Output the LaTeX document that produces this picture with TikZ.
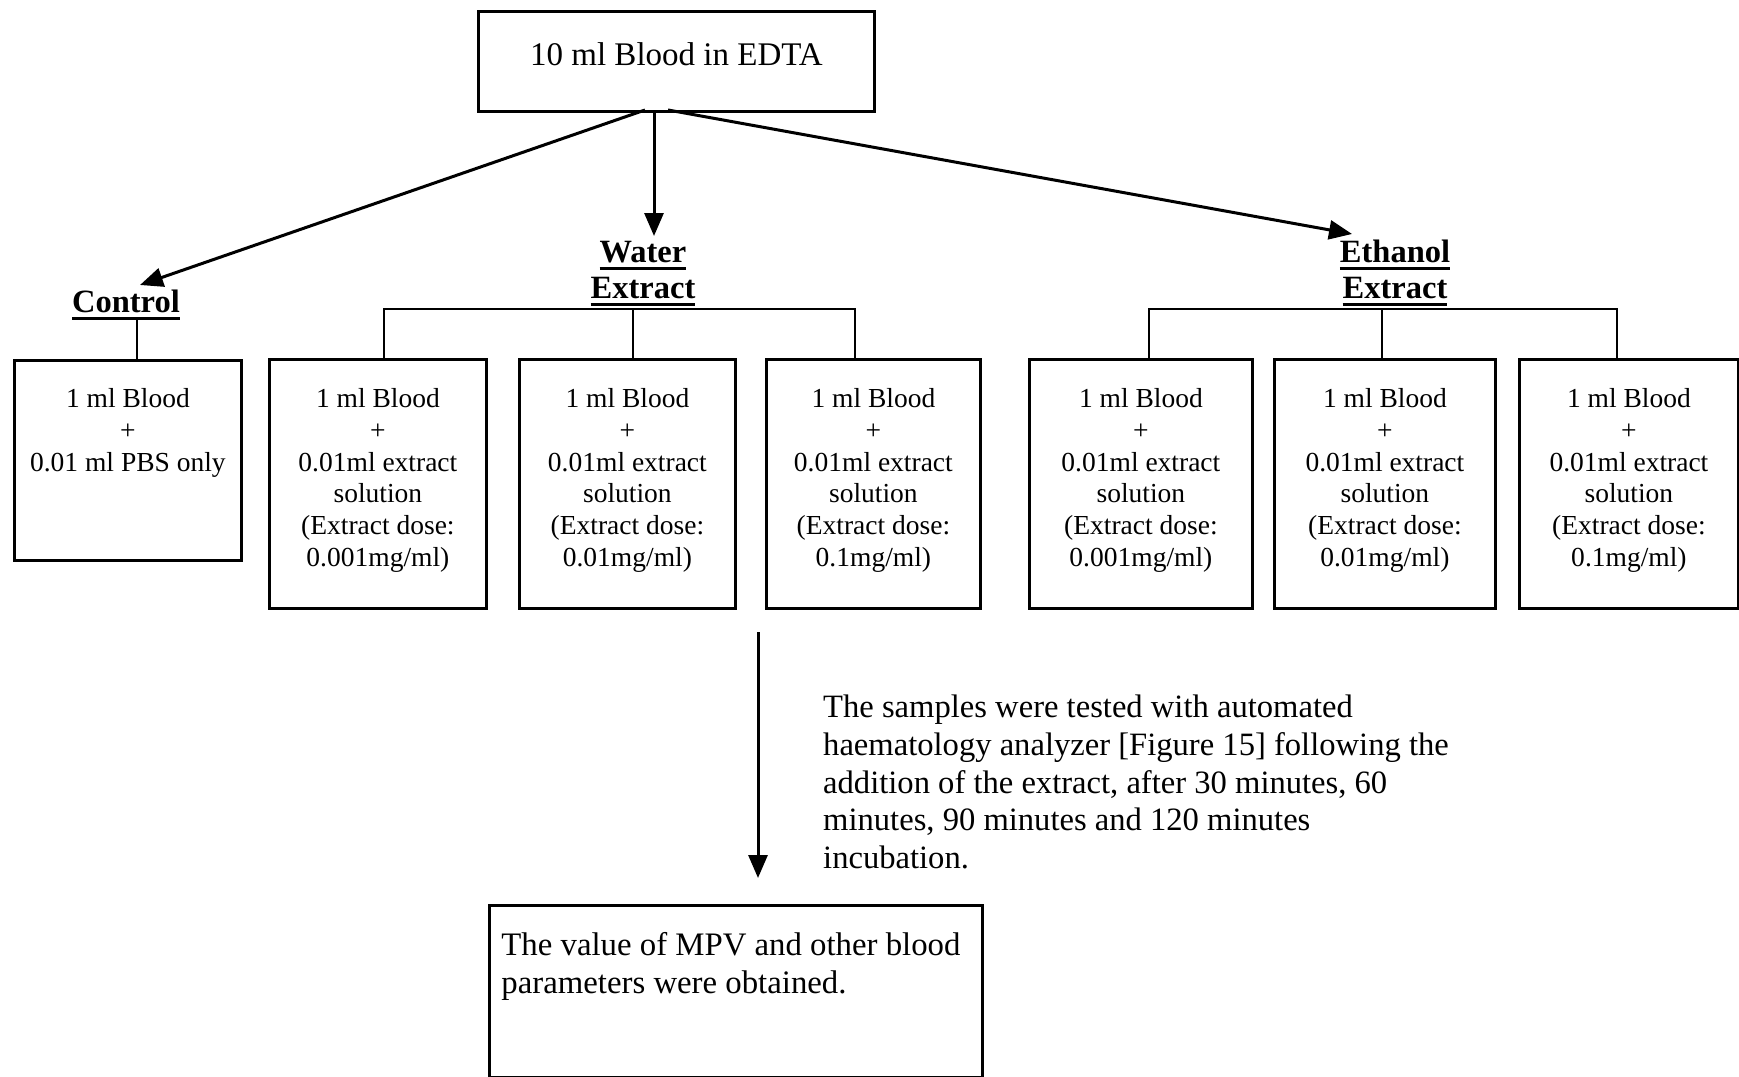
\documentclass[tikz,border=0pt]{standalone}
\usepackage{fontspec}
\setmainfont{Liberation Serif}
\usetikzlibrary{arrows.meta}
\newcommand\myul[1]{\setbox0\hbox{#1}\rlap{\copy0}\rule[-7pt]{\wd0}{3.2pt}}
\newcommand\cbox[4]{\begin{minipage}[t][#2][t]{#1}\centering\rule{0pt}{#3}#4\end{minipage}}
\newcommand\lbox[4]{\begin{minipage}[t][#2][t]{#1}\raggedright\rule{0pt}{#3}#4\end{minipage}}
\begin{document}
\begin{tikzpicture}[x=1pt,y=-1pt,
  box/.style={draw, line width=2.8pt, inner sep=0pt, anchor=north west, font=\fontsize{27.5}{31.8}\selectfont},
  lbl/.style={font=\fontsize{32.5}{36}\selectfont\bfseries, align=center, inner sep=0pt, anchor=south},
  conn/.style={line width=2.6pt},
  arr/.style={line width=3pt, -{Triangle[length=23pt,width=19pt]}}]
\useasboundingbox (0,0) rectangle (1739,1076);
% top box
\node[box, font=\fontsize{33}{36}\selectfont] (top) at (477,10) {\cbox{396pt}{100pt}{54pt}{10 ml Blood in EDTA}};
% labels
\node[lbl] (ctl) at (126,320) {\myul{Control}};
\node[lbl] (wat) at (643,306) {\myul{Water}\\[0pt]\myul{Extract}};
\node[lbl] (eth) at (1395,306) {\myul{Ethanol}\\[0pt]\myul{Extract}};
% boxes
\node[box] (c0) at (13,359) {\cbox{227pt}{200pt}{47pt}{1 ml Blood\\+\\0.01 ml PBS only}};
\node[box] (w1) at (268,358) {\cbox{217pt}{249pt}{48pt}{1 ml Blood\\+\\0.01ml extract\\solution\\(Extract dose:\\0.001mg/ml)}};
\node[box] (w2) at (518,358) {\cbox{216pt}{249pt}{48pt}{1 ml Blood\\+\\0.01ml extract\\solution\\(Extract dose:\\0.01mg/ml)}};
\node[box] (w3) at (765,358) {\cbox{214pt}{249pt}{48pt}{1 ml Blood\\+\\0.01ml extract\\solution\\(Extract dose:\\0.1mg/ml)}};
\node[box] (e1) at (1028,358) {\cbox{223pt}{249pt}{48pt}{1 ml Blood\\+\\0.01ml extract\\solution\\(Extract dose:\\0.001mg/ml)}};
\node[box] (e2) at (1273,358) {\cbox{221pt}{249pt}{48pt}{1 ml Blood\\+\\0.01ml extract\\solution\\(Extract dose:\\0.01mg/ml)}};
\node[box] (e3) at (1518,358) {\cbox{219pt}{249pt}{48pt}{1 ml Blood\\+\\0.01ml extract\\solution\\(Extract dose:\\0.1mg/ml)}};
% text block
\node[anchor=north west, inner sep=0pt, align=left, font=\fontsize{32.6}{37.7}\selectfont] (txt) at (823,695)
  {The samples were tested with automated\\haematology analyzer [Figure 15] following the\\addition of the extract, after 30 minutes, 60\\minutes, 90 minutes and 120 minutes\\incubation.};
% bottom box
\node[box, font=\fontsize{32.8}{38}\selectfont] (res) at (488,904) {\hspace{12pt}\lbox{481pt}{172pt}{50pt}{The value of MPV and other blood\\parameters were obtained.}};
% coordinates
\coordinate (tl) at (645,110);
\coordinate (tm) at (654,110);
\coordinate (tr) at (668,110);
\coordinate (ctip) at (140,285);
\coordinate (wtip) at (654,236);
\coordinate (etip) at (1352,234);
\coordinate (vs) at (758,632);
\coordinate (ve) at (758,878);
% arrows
\draw[arr] (tl) -- (ctip);
\draw[arr] (tm) -- (wtip);
\draw[arr] (tr) -- (etip);
\draw[arr] (vs) -- (ve);
% brackets
\draw[conn] (137,320) -- (137,359);
\draw[conn] (384,358) -- (384,309) -- (855,309) -- (855,358);
\draw[conn] (633,309) -- (633,358);
\draw[conn] (1149,358) -- (1149,309) -- (1617,309) -- (1617,358);
\draw[conn] (1382,309) -- (1382,358);
\end{tikzpicture}
\end{document}
